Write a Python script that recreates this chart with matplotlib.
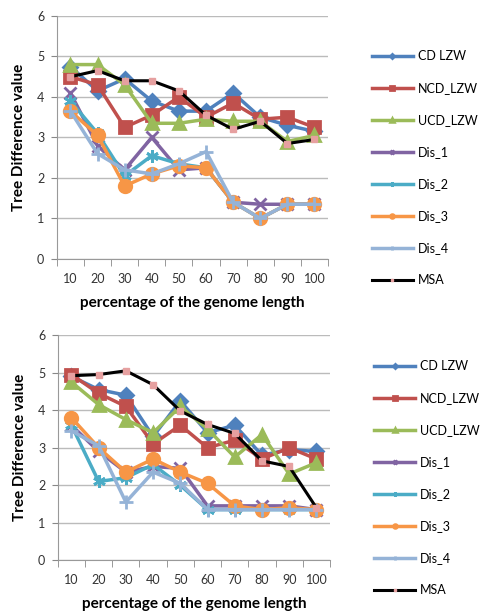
import matplotlib
matplotlib.use("Agg")
import matplotlib.pyplot as plt
import numpy as np

plt.rcParams['font.family'] = ['Lato', 'DejaVu Sans']

pct = ["10", "20", "30", "40", "50", "60", "70", "80", "90", "100"]
names = ["CD LZW", "NCD_LZW", "UCD_LZW", "Dis_1", "Dis_2", "Dis_3", "Dis_4", "MSA"]

# top chart
top_cd = [4.75, 4.15, 4.45, 3.9, 3.65, 3.65, 4.1, 3.5, 3.3, 3.15]
top_ncd = [4.5, 4.3, 3.25, 3.55, 4.0, 3.5, 3.85, 3.45, 3.5, 3.25]
top_ucd = [4.8, 4.8, 4.3, 3.35, 3.35, 3.45, 3.4, 3.4, 2.9, 3.05]
top_dis1 = [4.1, 2.8, 2.2, 3.0, 2.2, 2.25, 1.4, 1.35, 1.35, 1.35]
top_dis2 = [3.9, 3.1, 2.05, 2.55, 2.35, 2.25, 1.4, 1.0, 1.35, 1.35]
top_dis3 = [3.65, 3.05, 1.8, 2.1, 2.3, 2.25, 1.4, 1.0, 1.35, 1.35]
top_dis4 = [3.65, 2.6, 2.2, 2.1, 2.35, 2.65, 1.4, 1.0, 1.35, 1.35]
top_msa = [4.5, 4.65, 4.4, 4.4, 4.15, 3.55, 3.2, 3.4, 2.85, 2.95]

# bottom chart
bot_cd = [4.9, 4.55, 4.4, 3.3, 4.25, 3.4, 3.6, 2.8, 2.95, 2.9]
bot_ncd = [4.95, 4.45, 4.1, 3.1, 3.6, 3.0, 3.2, 2.7, 3.0, 2.7]
bot_ucd = [4.75, 4.15, 3.75, 3.4, 4.1, 3.5, 2.75, 3.35, 2.3, 2.6]
bot_dis1 = [3.6, 2.9, 2.35, 2.5, 2.45, 1.45, 1.45, 1.45, 1.45, 1.35]
bot_dis2 = [3.6, 2.1, 2.2, 2.55, 2.0, 1.35, 1.35, 1.35, 1.35, 1.35]
bot_dis3 = [3.8, 3.0, 2.35, 2.7, 2.35, 2.05, 1.45, 1.35, 1.4, 1.35]
bot_dis4 = [3.45, 3.05, 1.55, 2.35, 2.05, 1.35, 1.35, 1.35, 1.35, 1.35]
bot_msa = [4.92, 4.95, 5.05, 4.68, 3.98, 3.62, 3.38, 2.65, 2.5, 1.4]

colors = ["#4F81BD", "#C0504D", "#9BBB59", "#8064A2", "#4BACC6", "#F79646", "#95B3D7", "#000000"]
markers = ["D", "s", "^", "x", (6, 2, 0), "o", "+", "s"]
msizes = [7, 9, 9, 9, 9, 9, 10, 5]

fig = plt.figure(figsize=(4.86, 6.15), dpi=100)

def draw(rect, series, leg_top):
    ax = fig.add_axes(rect)
    x = np.arange(len(pct))
    for i, (name, vals) in enumerate(zip(names, series)):
        if name == "MSA":
            ax.plot(x, vals, color="black", lw=2.2, marker="s", ms=5,
                    mfc="#E6A0A0", mec="#E6A0A0", label=name, zorder=5)
        else:
            ax.plot(x, vals, color=colors[i], lw=2.5, marker=markers[i], ms=msizes[i],
                    mfc=colors[i], mec=colors[i], mew=2, label=name)
    ax.set_xlim(-0.5, 9.5)
    ax.set_ylim(0, 6)
    ax.set_yticks(range(7))
    ax.set_xticks(x)
    ax.set_xticklabels(pct)
    ax.set_xticks(np.arange(-0.5, 10, 1), minor=True)
    ax.tick_params(axis='x', which='major', length=0, pad=10, labelsize=9, colors="#333333")
    ax.tick_params(axis='x', which='minor', length=5, color="#888888", direction='out')
    ax.tick_params(axis='y', length=4, color="#888888", labelsize=9, colors="#333333", pad=5)
    ax.yaxis.grid(True, color="#BBBBBB", lw=1)
    ax.set_axisbelow(True)
    for s in ["top", "right"]:
        ax.spines[s].set_visible(False)
    for s in ["left", "bottom"]:
        ax.spines[s].set_color("#999999")
    ax.set_ylabel("Tree Difference value", fontsize=11, fontweight="bold", labelpad=8)
    ax.set_xlabel("percentage of the genome length", fontsize=11, fontweight="bold", labelpad=8)
    ax.legend(loc="upper left", bbox_to_anchor=leg_top, frameon=False, fontsize=9,
              handlelength=3.3, labelspacing=1.6, handletextpad=0.4, markerscale=0.3)
    return ax

draw([0.117, 0.579, 0.558, 0.395],
     [top_cd, top_ncd, top_ucd, top_dis1, top_dis2, top_dis3, top_dis4, top_msa],
     (1.12, 0.905))
draw([0.119, 0.089, 0.560, 0.366],
     [bot_cd, bot_ncd, bot_ucd, bot_dis1, bot_dis2, bot_dis3, bot_dis4, bot_msa],
     (1.12, 0.94))

fig.savefig("out.png", dpi=100)
